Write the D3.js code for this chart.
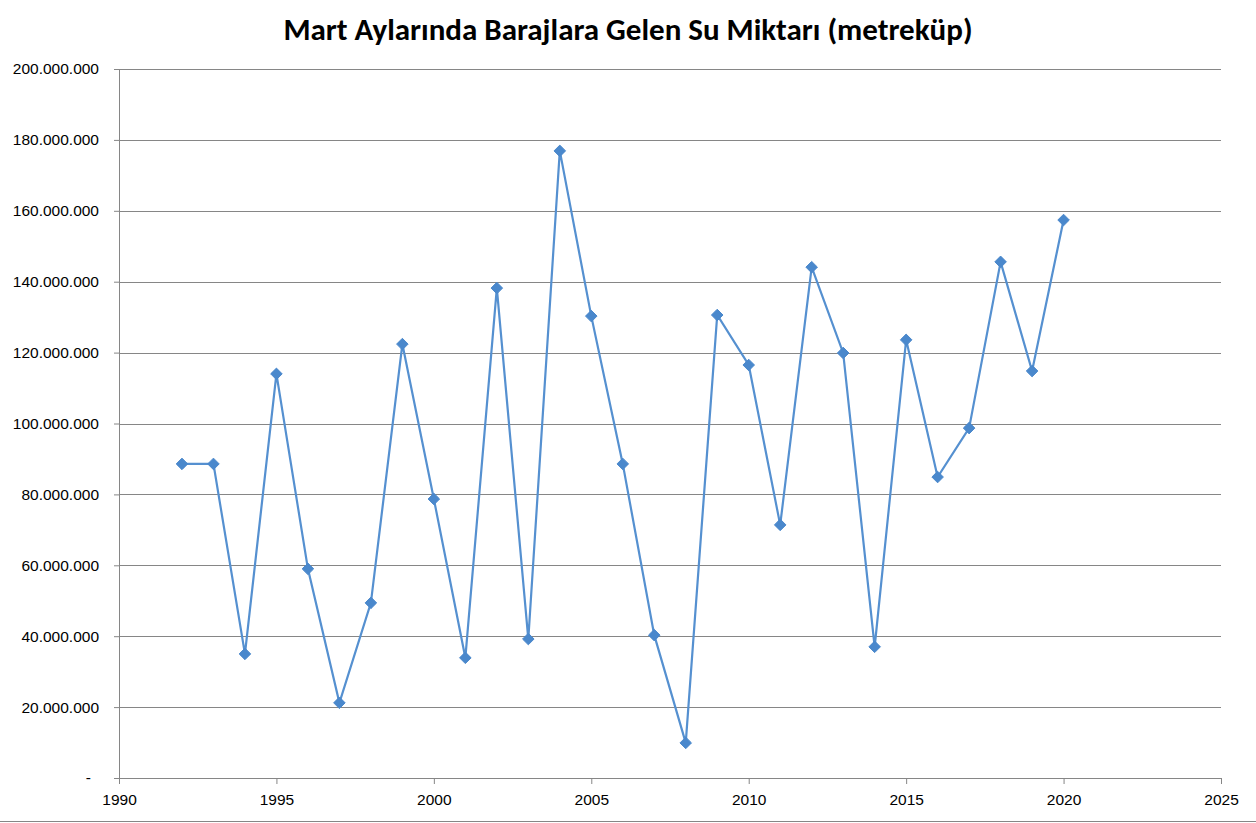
<!DOCTYPE html>
<html>
<head>
<meta charset="utf-8">
<script src="https://cdn.jsdelivr.net/npm/d3@7"></script>
<style>
  body { margin: 0; background: #fff; }
  svg { display: block; font-family: Carlito, "Open Sans", "Liberation Sans", sans-serif; }
</style>
</head>
<body>
<svg></svg>
<script>
const width = 1256;
const height = 823;

// Veriler
const years = [1992, 1993, 1994, 1995, 1996, 1997, 1998, 1999, 2000, 2001,
  2002, 2003, 2004, 2005, 2006, 2007, 2008, 2009, 2010, 2011,
  2012, 2013, 2014, 2015, 2016, 2017, 2018, 2019, 2020];
const volumes = [88600000, 88600000, 35000000, 114000000, 59000000, 21200000, 49400000, 122400000, 78700000, 33900000,
  138200000, 39200000, 176900000, 130300000, 88600000, 40300000, 9900000, 130600000, 116500000, 71400000,
  144100000, 119900000, 37000000, 123600000, 84900000, 98700000, 145600000, 114800000, 157400000];
const xTicks = [1990, 1995, 2000, 2005, 2010, 2015, 2020, 2025];
const yTicks = [0, 20000000, 40000000, 60000000, 80000000, 100000000, 120000000, 140000000, 160000000, 180000000, 200000000];
const title = "Mart Aylarında Barajlara Gelen Su Miktarı (metreküp)";

const margin = { left: 119, right: 35, top: 69, bottom: 45 };

const svg = d3.select("svg")
  .attr("width", width)
  .attr("height", height);

const x = d3.scaleLinear().domain([1990, 2025]).range([margin.left, width - margin.right]);
const y = d3.scaleLinear().domain([0, 200000000]).range([height - margin.bottom, margin.top]);

// binlik ayraç nokta
const fmt = v => v === 0 ? "-" : d3.format(",")(v).replace(/,/g, ".");

// Başlık
svg.append("text")
  .attr("x", 628)
  .attr("y", 40)
  .attr("text-anchor", "middle")
  .attr("font-size", 31)
  .attr("font-weight", "bold")
  .attr("fill", "#000")
  .text(title);

// Yatay ızgara + y ekseni
const yAxis = svg.append("g")
  .attr("transform", `translate(${margin.left},0)`)
  .call(d3.axisLeft(y).tickValues(yTicks).tickFormat(fmt).tickSize(5).tickPadding(15));
yAxis.select(".domain").attr("stroke", "#868686");
yAxis.selectAll(".tick line").attr("stroke", "#868686");
yAxis.selectAll(".tick text").attr("font-size", 15.5).attr("fill", "#000").attr("font-family", null);
// sıfır etiketi ("-") muhasebe biçimindeki gibi biraz solda
yAxis.selectAll(".tick text").filter(d => d === 0).attr("x", -28);

svg.append("g")
  .selectAll("line")
  .data(yTicks.filter(d => d > 0))
  .join("line")
  .attr("x1", margin.left)
  .attr("x2", width - margin.right)
  .attr("y1", d => Math.round(y(d)) + 0.5)
  .attr("y2", d => Math.round(y(d)) + 0.5)
  .attr("stroke", "#868686")
  .attr("stroke-width", 1);

// x ekseni
const xAxis = svg.append("g")
  .attr("transform", `translate(0,${height - margin.bottom})`)
  .call(d3.axisBottom(x).tickValues(xTicks).tickFormat(d3.format("d")).tickSize(6).tickSizeOuter(0).tickPadding(10));
xAxis.select(".domain").attr("stroke", "#868686");
xAxis.selectAll(".tick line").attr("stroke", "#868686");
xAxis.selectAll(".tick text").attr("font-size", 15.5).attr("fill", "#000").attr("font-family", null);

// alt çerçeve çizgisi
svg.append("line")
  .attr("x1", 0).attr("x2", width)
  .attr("y1", height - 1.5).attr("y2", height - 1.5)
  .attr("stroke", "#868686");

const data = years.map((yr, i) => ({ year: yr, value: volumes[i] }));

// Çizgi
const line = d3.line()
  .x(d => x(d.year))
  .y(d => y(d.value));

svg.append("path")
  .datum(data)
  .attr("d", line)
  .attr("fill", "none")
  .attr("stroke", "#5590d0")
  .attr("stroke-width", 2.2);

// Elmas işaretçiler
const diamond = d3.symbol().type(d3.symbolDiamond2).size(85);
svg.append("g")
  .selectAll("path")
  .data(data)
  .join("path")
  .attr("transform", d => `translate(${x(d.year)},${y(d.value)})`)
  .attr("d", diamond)
  .attr("fill", "#4a88cc")
  .attr("stroke", "#4a88cc")
  .attr("stroke-width", 1);
</script>
</body>
</html>
